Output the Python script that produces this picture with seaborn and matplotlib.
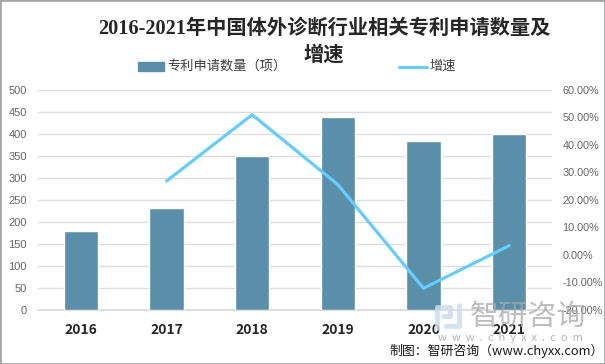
import matplotlib
matplotlib.use("Agg")
import matplotlib.pyplot as plt
from matplotlib.patches import Rectangle
from matplotlib.lines import Line2D
from matplotlib.ticker import FuncFormatter
import seaborn as sns
import pandas as pd

years = ["2016", "2017", "2018", "2019", "2020", "2021"]
patents = [180, 231, 349, 439, 385, 399]
growth = [None, 26.9, 51.0, 25.6, -12.1, 3.4]
title = "2016-2021年中国体外诊断行业相关专利申请数量及\n增速"
bar_label = "专利申请数量（项）"
line_label = "增速"
source = "制图：智研咨询（www.chyxx.com）"
wm_cn = "智研咨询"
wm_en = "w  w  w  .  c  h  y  x  x  .  c  o  m"

sns.set_theme(style="white")
plt.rcParams["font.family"] = ["Noto Sans CJK SC", "DejaVu Sans"]

W, H = 605, 364
fig = plt.figure(figsize=(W / 100, H / 100), dpi=100, facecolor="white")
ax = fig.add_axes([38 / W, 1 - 310 / H, (552 - 38) / W, 220 / H])
df = pd.DataFrame({"year": years, "patents": patents, "growth": growth})

sns.barplot(data=df, x="year", y="patents", color="#5b8ea8", saturation=1, width=0.4, ax=ax, zorder=3)
ax.set_xlim(-0.5, 5.5)
ax.set_ylim(0, 500)
ax.set_yticks(range(0, 501, 50))
ax.yaxis.grid(True, color="#dddddd", lw=1)
ax.set_axisbelow(True)
ax.set_xlabel("")
ax.set_ylabel("")
for s in ["top", "left", "right"]:
    ax.spines[s].set_visible(False)
ax.spines["bottom"].set_color("#d9d9d9")
ax.tick_params(axis="y", labelsize=8, labelcolor="#666666", length=0, pad=8)
ax.tick_params(axis="x", length=0, pad=9)
for t in ax.get_yticklabels():
    t.set_family("Liberation Sans")
for t in ax.get_xticklabels():
    t.set_fontsize(10)
    t.set_fontweight("bold")
    t.set_color("#262626")

ax2 = ax.twinx()
sns.lineplot(data=df, x="year", y="growth", color="#66ccff", lw=2.3, ax=ax2, zorder=4, errorbar=None)
ax2.set_ylim(-20, 60)
ax2.set_yticks(range(-20, 61, 10))
ax2.yaxis.set_major_formatter(FuncFormatter(lambda v, _: f"{v:.2f}%"))
ax2.set_xlabel("")
ax2.set_ylabel("")
ax2.grid(False)
for s in ax2.spines.values():
    s.set_visible(False)
ax2.tick_params(axis="y", labelsize=7.8, labelcolor="#666666", length=0, pad=7.5)
for t in ax2.get_yticklabels():
    t.set_family("Liberation Sans")

# title
title_font = ["Liberation Serif", "Noto Sans CJK SC"]
lines = title.split("\n")
fig.text(324 / W, 1 - 29 / H, lines[0], ha="center", va="center", fontsize=14.6, fontweight="bold",
         family=title_font, color="#262626")
fig.text(324 / W, 1 - 56 / H, lines[1], ha="center", va="center", fontsize=14.6, fontweight="bold",
         family=title_font, color="#262626")

# legend
fig.add_artist(Rectangle((138 / W, 1 - 71 / H), 26 / W, 9 / H, transform=fig.transFigure, color="#5b8ea8"))
fig.text(167 / W, 1 - 66 / H, bar_label, ha="left", va="center", fontsize=9.5, color="#404040")
fig.add_artist(Line2D([399 / W, 427 / W], [1 - 67 / H] * 2, transform=fig.transFigure, color="#66ccff", lw=2.3))
fig.text(429 / W, 1 - 66 / H, line_label, ha="left", va="center", fontsize=9.5, color="#404040")

# watermark logo
for xs, ys in [([437, 437, 450, 450, 443], [328, 307, 307, 316, 316]),
               ([459, 459, 446], [305, 326, 326])]:
    fig.add_artist(Line2D([x / W for x in xs], [1 - y / H for y in ys], transform=fig.transFigure,
                          color="#c9deee", lw=3.5, alpha=0.85, zorder=5))
fig.text(528 / W, 1 - 317 / H, wm_cn, ha="center", va="center", fontsize=21, color="#a8a8a8", alpha=0.75, zorder=5)
fig.text(510 / W, 1 - 338 / H, wm_en, ha="center", va="center", fontsize=8, color="#b5b5b5", zorder=5)
# source
fig.text(604 / W, 1 - 351 / H, source, ha="right", va="center", fontsize=9.3, color="#1a1a1a", zorder=6)

# frame
fig.add_artist(Rectangle((0, 0), 1, 1, transform=fig.transFigure, fill=False, ec="#a6a6a6", lw=2))
fig.savefig("out.png", dpi=100)
